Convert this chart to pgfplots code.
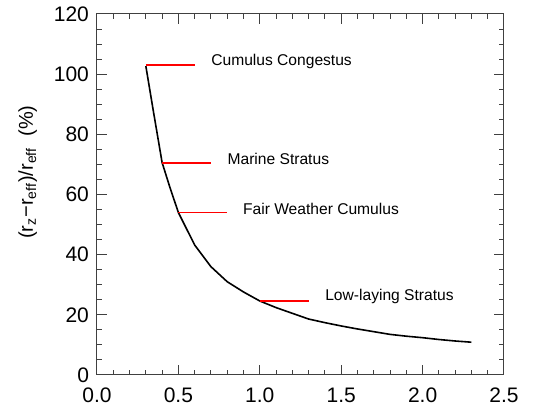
\documentclass[border=0pt]{standalone}
\usepackage{fontspec}
\setmainfont{Liberation Sans}
\usepackage{pgfplots}
\pgfplotsset{compat=1.18}

\begin{document}
\begin{tikzpicture}
  \begin{axis}[
    name=ax,
    scale only axis,
    width=203.5pt, height=180.5pt,
    xmin=0, xmax=2.5, ymin=0, ymax=120,
    xtick={0,0.5,1,1.5,2,2.5},
    ytick={0,20,40,60,80,100,120},
    minor x tick num=4,
    minor y tick num=3,
    tick align=inside,
    major tick length=5pt,
    minor tick length=2.5pt,
    axis line style={draw=black!75, line width=0.5pt},
    tick style={draw=black!75, line width=0.5pt},
    tick label style={font=\fontsize{10.5}{12}\selectfont},
    /pgf/number format/assume math mode=true,
    xticklabel style={yshift=-3pt, /pgf/number format/.cd, fixed, fixed zerofill, precision=1},
    yticklabel style={xshift=-0.5pt, /pgf/number format/.cd, fixed, precision=0},
    ylabel={(r\textsubscript{z}−r\textsubscript{eff})/r\textsubscript{eff}\ \ (\%)},
    ylabel style={at={(axis description cs:-0.17,0.562)}, anchor=center,
                  font=\fontsize{10}{12}\selectfont},
  ]
    \addplot[black, line width=0.8pt] coordinates {
      (0.30,102.7) (0.35,86.5) (0.40,70.6) (0.45,62.0) (0.50,54.0)
      (0.60,43.2) (0.70,36.0) (0.80,31.0) (0.90,27.6) (1.00,24.6)
      (1.10,22.4) (1.20,20.5) (1.30,18.6) (1.40,17.4) (1.50,16.3)
      (1.60,15.3) (1.70,14.4) (1.80,13.5) (1.90,12.9) (2.00,12.4)
      (2.10,11.8) (2.20,11.3) (2.30,10.9)
    };
    \addplot[red, line width=0.9pt] coordinates {(0.3,103) (0.6,103)};
    \addplot[red, line width=0.9pt] coordinates {(0.4,70.6) (0.7,70.6)};
    \addplot[red, line width=0.9pt] coordinates {(0.5,54.0) (0.8,54.0)};
    \addplot[red, line width=0.9pt] coordinates {(1.0,24.6) (1.3,24.6)};
    \node[anchor=west, inner sep=0pt, font=\fontsize{7.8}{9}\selectfont]
      at (axis cs:0.70,104.2) {Cumulus Congestus};
    \node[anchor=west, inner sep=0pt, font=\fontsize{7.8}{9}\selectfont]
      at (axis cs:0.80,71.9) {Marine Stratus};
    \node[anchor=west, inner sep=0pt, font=\fontsize{7.8}{9}\selectfont]
      at (axis cs:0.895,55.1) {Fair Weather Cumulus};
    \node[anchor=west, inner sep=0pt, font=\fontsize{7.8}{9}\selectfont]
      at (axis cs:1.40,26.0) {Low-laying Stratus};
  \end{axis}
  \pgfresetboundingbox
  \path ([xshift=-48.5pt,yshift=-16pt]ax.south west)
    rectangle ([xshift=19pt,yshift=7pt]ax.north east);
\end{tikzpicture}
\end{document}
